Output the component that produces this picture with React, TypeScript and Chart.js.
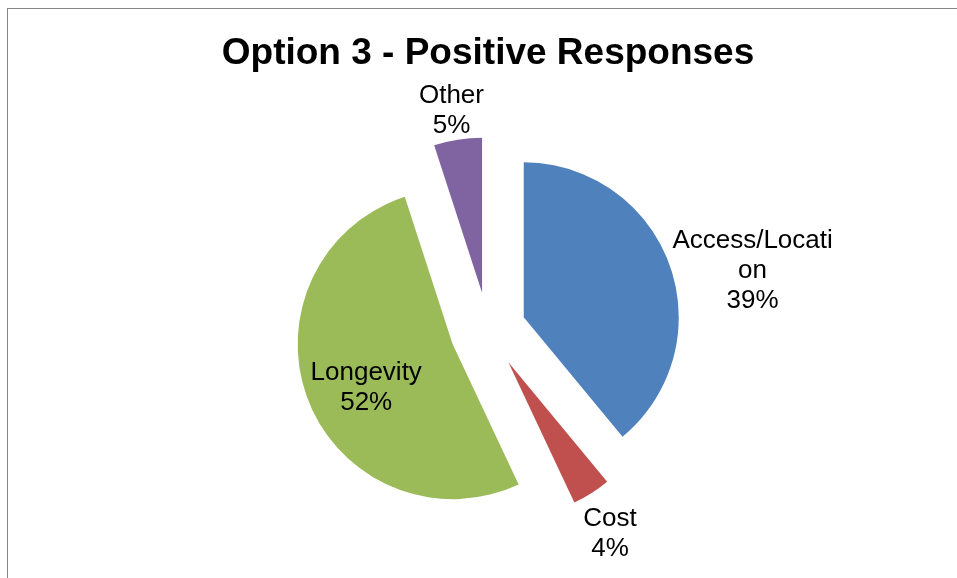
import React, { useEffect, useRef } from 'react';
import { Chart, registerables } from 'chart.js';

Chart.register(...registerables);

// ---- data ----
const categories = ['Access/Location', 'Cost', 'Longevity', 'Other'];
const values = [39, 4, 52, 5];
const chartTitle = 'Option 3 - Positive Responses';

// ---- styles ----
const sliceColors = ['#4F81BD', '#C0504D', '#9BBB59', '#8064A2'];
const FONT = '"Liberation Sans", Arial, Helvetica, sans-serif';

function wrapText(ctx: CanvasRenderingContext2D, text: string, maxWidth: number): string[] {
  const lines: string[] = [];
  let cur = '';
  for (const ch of text) {
    const test = cur + ch;
    if (cur && ctx.measureText(test).width > maxWidth) {
      lines.push(cur);
      cur = ch;
    } else {
      cur = test;
    }
  }
  if (cur) lines.push(cur);
  return lines;
}

const frameBorder = {
  id: 'frameBorder',
  beforeDraw(chart: any) {
    const ctx = chart.ctx;
    ctx.save();
    ctx.strokeStyle = '#868686';
    ctx.lineWidth = 1;
    ctx.strokeRect(7.5, 8.5, chart.width + 200, chart.height + 200);
    ctx.restore();
  },
};

// draws each slice translated along its bisector by the arc's offset (true pixel explode)
const explodedSlices = {
  id: 'explodedSlices',
  beforeDatasetDraw(chart: any, args: any) {
    const ctx = chart.ctx;
    args.meta.data.forEach((arc: any) => {
      const { x, y, startAngle, endAngle, outerRadius } = arc.getProps(
        ['x', 'y', 'startAngle', 'endAngle', 'outerRadius'],
        true
      );
      const o = arc.options;
      const mid = (startAngle + endAngle) / 2;
      const off = o.offset || 0;
      const cx = x + Math.cos(mid) * off;
      const cy = y + Math.sin(mid) * off;
      ctx.save();
      ctx.beginPath();
      ctx.moveTo(cx, cy);
      ctx.arc(cx, cy, outerRadius, startAngle, endAngle);
      ctx.closePath();
      ctx.fillStyle = o.backgroundColor;
      ctx.fill();
      ctx.restore();
    });
    return false;
  },
};

const sliceLabels = {
  id: 'sliceLabels',
  afterDatasetsDraw(chart: any, _args: any, opts: any) {
    const ctx = chart.ctx;
    const meta = chart.getDatasetMeta(0);
    const data = chart.data.datasets[0].data as number[];
    const total = data.reduce((a, b) => a + b, 0);
    ctx.save();
    ctx.font = `${opts.size}px ${opts.family}`;
    ctx.fillStyle = opts.color;
    ctx.textAlign = 'center';
    ctx.textBaseline = 'middle';
    meta.data.forEach((arc: any, i: number) => {
      const { x, y, startAngle, endAngle, outerRadius } = arc.getProps(
        ['x', 'y', 'startAngle', 'endAngle', 'outerRadius'],
        true
      );
      const off = arc.options.offset || 0;
      const mid = (startAngle + endAngle) / 2;
      const dx = Math.cos(mid);
      const dy = Math.sin(mid);
      const vx = x + dx * off;
      const vy = y + dy * off;
      const frac = data[i] / total;
      const lines = [
        ...wrapText(ctx, String(chart.data.labels[i]), opts.maxWidth),
        Math.round(frac * 100) + '%',
      ];
      const w = Math.max(...lines.map((l: string) => ctx.measureText(l).width));
      const h = lines.length * opts.lineHeight;
      let cx: number;
      let cy: number;
      if (frac >= opts.insideMin) {
        cx = vx + dx * outerRadius * opts.insideRadius;
        cy = vy + dy * outerRadius * opts.insideRadius;
      } else {
        const px = vx + dx * (outerRadius + opts.gap);
        const py = vy + dy * (outerRadius + opts.gap);
        cx = px + (dx * w) / 2;
        cy = py + (Math.abs(dy) >= Math.abs(dx) ? (dy * h) / 2 : 0);
      }
      cy += opts.shiftY;
      lines.forEach((l: string, k: number) => {
        ctx.fillText(l, cx, cy - h / 2 + opts.lineHeight * (k + 0.5));
      });
    });
    ctx.restore();
  },
};

export default function App() {
  const canvasRef = useRef<HTMLCanvasElement | null>(null);

  useEffect(() => {
    if (!canvasRef.current) return;
    const chart = new Chart(canvasRef.current, {
      type: 'pie',
      data: {
        labels: categories,
        datasets: [
          {
            data: values,
            backgroundColor: sliceColors,
            borderWidth: 0,
            offset: 38,
            radius: 155,
          } as any,
        ],
      },
      options: {
        animation: false,
        responsive: true,
        maintainAspectRatio: false,
        events: [],
        layout: { padding: { left: 19, right: 0, top: 0, bottom: 0 } },
        plugins: {
          legend: { display: false },
          tooltip: { enabled: false },
          title: {
            display: true,
            text: chartTitle,
            color: '#000000',
            font: { family: FONT, size: 37, weight: 'bold', lineHeight: 1.2 },
            padding: { top: 32, bottom: 6 },
          },
          sliceLabels: {
            family: FONT,
            size: 26,
            color: '#000000',
            lineHeight: 30,
            maxWidth: 168,
            gap: 8,
            shiftY: 9,
            insideMin: 0.5,
            insideRadius: 0.6,
          },
        } as any,
      },
      plugins: [frameBorder, explodedSlices, sliceLabels],
    });
    return () => chart.destroy();
  }, []);

  return (
    <div style={{ position: 'fixed', left: 0, top: 0, width: 957, height: 578, background: '#ffffff' }}>
      <canvas ref={canvasRef} />
    </div>
  );
}
